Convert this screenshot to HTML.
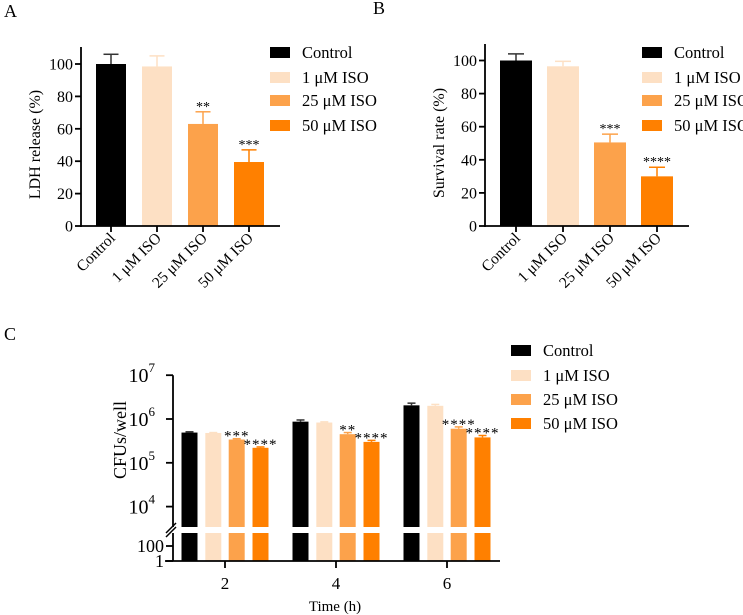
<!DOCTYPE html>
<html><head><meta charset="utf-8"><style>
body{margin:0;background:#fff;}
svg, svg text{font-family:"Liberation Serif","DejaVu Serif",serif !important;}
</style></head><body>
<svg id="fig" width="743" height="615" viewBox="0 0 743 615" xmlns="http://www.w3.org/2000/svg" font-family="Liberation Serif, serif" style="display:block;font-family:'Liberation Serif',serif">
<text x="4" y="17" font-size="18">A</text>
<text x="373" y="14" font-size="18">B</text>
<text x="4" y="340" font-size="18">C</text>
</svg>
<script>
const groups = ["Control","1 μM ISO","25 μM ISO","50 μM ISO"];
const colors = ["#000000","#fde0c4","#fca24b","#ff8000"];
const errColors = ["#333333","#fde0c4","#fca24b","#ff8000"];
const ldhValues = [100,98.5,63,39.5];
const ldhErrors = [6,6.5,7.5,7.5];
const ldhStars = ["","","**","***"];
const survValues = [100,96.5,50.5,30];
const survErrors = [4,3,5,5.5];
const survStars = ["","","***","****"];
const barTicks = [0,20,40,60,80,100];
const times = ["2","4","6"];
const cfuControl = [4.9e5,8.7e5,2.05e6];
const cfu1 = [4.8e5,8.3e5,2.0e6];
const cfu25 = [3.4e5,4.5e5,6.0e5];
const cfu50 = [2.2e5,3.0e5,3.8e5];
const cfuErrControl = [0.2e5,0.8e5,0.25e6];
const cfuErr1 = [0.1e5,0.3e5,0.15e6];
const cfuErr25 = [0.15e5,0.4e5,0.6e5];
const cfuErr50 = [0.1e5,0.25e5,0.4e5];
const cfuStars25 = ["***","**","****"];
const cfuStars50 = ["****","****","****"];
const logTicks = [4,5,6,7];

const svg = document.getElementById('fig');
const NS = "http://www.w3.org/2000/svg";
function mk(tag, attrs, parent){const e=document.createElementNS(NS,tag);for(const k in attrs)e.setAttribute(k,attrs[k]);if(tag==='text')e.setAttribute('font-family','Liberation Serif, serif');(parent||svg).appendChild(e);return e;}

function barPanel(p){
  const g = mk('g',{});
  
  
  const yS = v => p.y0 - v*p.k;
  const xs = i => p.c0 + i*p.step;
  p.values.forEach((v,i)=>{
    const r = mk('rect',{x:xs(i)-p.bw/2,y:yS(v),width:p.bw,height:p.y0-yS(v),fill:colors[i]},g);
    
    
    const top = yS(v+p.errors[i]);
    mk('line',{x1:xs(i),x2:xs(i),y1:yS(v),y2:top,stroke:errColors[i],'stroke-width':1.5},g);
    mk('line',{x1:xs(i)-p.bw/4,x2:xs(i)+p.bw/4,y1:top,y2:top,stroke:errColors[i],'stroke-width':1.5},g);
    if(p.stars[i]){const t=mk('text',{x:xs(i),y:top-1,'font-size':14,'text-anchor':'middle'},g);t.textContent=p.stars[i];
      
      }
    mk('line',{x1:xs(i),x2:xs(i),y1:p.y0,y2:p.y0+6,stroke:'#000','stroke-width':1.8},g);
    const lx=xs(i)+5, ly=p.y0+13;
    const t=mk('text',{x:lx,y:ly,'font-size':15.5,'text-anchor':'end',transform:`rotate(-45 ${lx} ${ly})`},g);t.textContent=groups[i];
    
    
  });
  mk('line',{x1:p.x0,x2:p.x0,y1:p.top,y2:p.y0+1,stroke:'#000','stroke-width':1.8},g);
  mk('line',{x1:p.x0-1,x2:p.xEnd,y1:p.y0,y2:p.y0,stroke:'#000','stroke-width':1.8},g);
  barTicks.forEach(v=>{
    mk('line',{x1:p.x0-6,x2:p.x0,y1:yS(v),y2:yS(v),stroke:'#000','stroke-width':1.8},g);
    const t=mk('text',{x:p.x0-8,y:yS(v)+5.5,'font-size':16,'text-anchor':'end'},g);t.textContent=v;
    
    
  });
  const mid=(p.y0+p.top)/2+8;
  const yt=mk('text',{x:p.ytx,y:mid,'font-size':16,'text-anchor':'middle',transform:`rotate(-90 ${p.ytx} ${mid})`},g);yt.textContent=p.ytitle;
  
  
  legend(p.lx, [52,77,100,125], p.legendName);
}
function legend(lx, ys, name){
  const g = mk('g',{});
  
  
  groups.forEach((s,i)=>{
    const e=mk('g',{},g);
    
    
    mk('rect',{x:lx,y:ys[i]-5,width:20,height:11,fill:colors[i]},e);
    const t=mk('text',{x:lx+32,y:ys[i]+6,'font-size':16.5},e);t.textContent=s;
  });
}
barPanel({name:'ldh-chart',values:ldhValues,errors:ldhErrors,stars:ldhStars,x0:81,y0:226,k:1.62,top:47,c0:111,step:46,bw:30,xEnd:280,ytx:40,ytitle:'LDH release (%)',lx:270,legendName:'legend-a'});
barPanel({name:'survival-chart',values:survValues,errors:survErrors,stars:survStars,x0:485,y0:226,k:1.655,top:44,c0:516,step:47,bw:32,xEnd:689,ytx:444,ytitle:'Survival rate (%)',lx:642,legendName:'legend-b'});

(function(){
  const g = mk('g',{});
  
  
  const ax=173, y0=561, brkTop=527, brkBot=533;
  const yL = v => 419 - (Math.log10(v)-6)*43.8;
  const gx = i => 225 + i*111;
  const offs=[-35.5,-11.7,11.7,35.5];
  const series=[cfuControl,cfu1,cfu25,cfu50];
  const errs=[cfuErrControl,cfuErr1,cfuErr25,cfuErr50];
  const stars=[null,null,cfuStars25,cfuStars50];
  times.forEach((tm,i)=>{
    series.forEach((s,j)=>{
      const cx=gx(i)+offs[j], bw=16, y=yL(s[i]);
      const r=mk('rect',{x:cx-bw/2,y:y,width:bw,height:brkTop-y,fill:colors[j]},g);
      
      
      mk('rect',{x:cx-bw/2,y:brkBot,width:bw,height:y0-brkBot,fill:colors[j]},g);
      const top=yL(s[i]+errs[j][i]);
      mk('line',{x1:cx,x2:cx,y1:y,y2:top,stroke:errColors[j],'stroke-width':1.5},g);
      mk('line',{x1:cx-bw/4,x2:cx+bw/4,y1:top,y2:top,stroke:errColors[j],'stroke-width':1.5},g);
      if(stars[j]){const t=mk('text',{x:cx,y:top+2,'font-size':15,'text-anchor':'middle','letter-spacing':1},g);t.textContent=stars[j][i];
        
        }
    });
    mk('line',{x1:gx(i),x2:gx(i),y1:y0,y2:y0+7,stroke:'#000','stroke-width':1.8},g);
    const t=mk('text',{x:gx(i),y:y0+28,'font-size':17,'text-anchor':'middle'},g);t.textContent=tm;
    
    
  });
  mk('line',{x1:ax,x2:ax,y1:yL(1e7),y2:brkTop,stroke:'#000','stroke-width':1.8},g);
  mk('line',{x1:ax,x2:ax,y1:brkBot,y2:y0,stroke:'#000','stroke-width':1.8},g);
  mk('line',{x1:ax-7,x2:ax+3,y1:brkTop+6,y2:brkTop-4,stroke:'#000','stroke-width':1.5},g);
  mk('line',{x1:ax-7,x2:ax+3,y1:brkTop+10,y2:brkTop,stroke:'#000','stroke-width':1.5},g);
  mk('line',{x1:165,x2:500,y1:y0,y2:y0,stroke:'#000','stroke-width':1.8},g);
  logTicks.forEach(e=>{
    const y=yL(Math.pow(10,e));
    mk('line',{x1:ax-7,x2:ax,y1:y,y2:y,stroke:'#000','stroke-width':1.8},g);
    const t=mk('text',{x:ax-18,y:y+7,'font-size':20,'text-anchor':'end'},g);
    
    
    t.textContent='10';
    const s=mk('tspan',{dy:-10,'font-size':13},t);s.textContent=e;
  });
  [[546,'100'],[561,'1']].forEach(([y,l])=>{
    mk('line',{x1:ax-7,x2:ax,y1:y,y2:y,stroke:'#000','stroke-width':1.8},g);
    const t=mk('text',{x:ax-9,y:y+6,'font-size':18,'text-anchor':'end'},g);t.textContent=l;
    
    
  });
  const yt=mk('text',{x:126,y:440,'font-size':18,'text-anchor':'middle',transform:'rotate(-90 126 440)'},g);yt.textContent='CFUs/well';
  
  
  const xt=mk('text',{x:335,y:611,'font-size':15,'text-anchor':'middle'},g);xt.textContent='Time (h)';
  
  
  legend(511,[350,375,399,423],'legend-c');
})();
</script>
</body></html>
